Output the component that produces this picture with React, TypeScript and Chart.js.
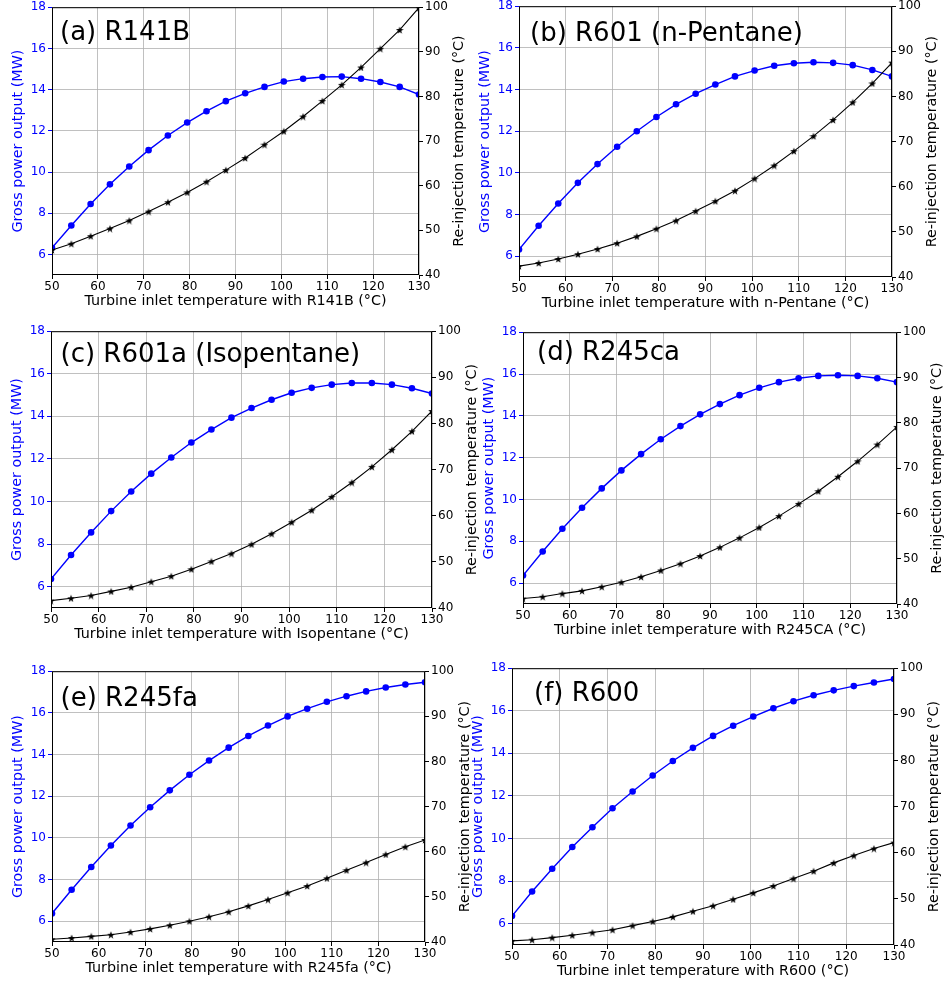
import React, { useEffect, useRef } from "react";
import { Chart, registerables } from "chart.js";

Chart.register(...registerables);

const FONT = "DejaVu Sans";
const BLUE = "#0000ff";

// Turbine inlet temperatures (°C), 20 evaluation points
const inletTemps = [50, 54.21, 58.42, 62.63, 66.84, 71.05, 75.26, 79.47, 83.68, 87.89, 92.11, 96.32, 100.53, 104.74, 108.95, 113.16, 117.37, 121.58, 125.79, 130];

const xTicks = [50, 60, 70, 80, 90, 100, 110, 120, 130];
const powerTicks = [6, 8, 10, 12, 14, 16, 18];
const tempTicks = [40, 50, 60, 70, 80, 90, 100];

// Gross power output (MW)
const powerR141B = [6.32, 7.40, 8.45, 9.40, 10.27, 11.06, 11.77, 12.40, 12.95, 13.44, 13.82, 14.13, 14.39, 14.53, 14.61, 14.63, 14.53, 14.37, 14.13, 13.76];
const powerR601 = [6.32, 7.46, 8.53, 9.52, 10.42, 11.25, 12.0, 12.68, 13.29, 13.80, 14.24, 14.63, 14.91, 15.14, 15.26, 15.31, 15.28, 15.17, 14.94, 14.63];
const powerR601a = [6.36, 7.49, 8.55, 9.55, 10.47, 11.31, 12.07, 12.77, 13.38, 13.94, 14.39, 14.78, 15.11, 15.34, 15.49, 15.57, 15.57, 15.49, 15.32, 15.07];
const powerR245ca = [6.36, 7.51, 8.60, 9.60, 10.53, 11.39, 12.17, 12.88, 13.51, 14.07, 14.56, 14.99, 15.34, 15.61, 15.80, 15.91, 15.94, 15.91, 15.80, 15.61];
const powerR245fa = [6.37, 7.51, 8.60, 9.63, 10.59, 11.47, 12.28, 13.03, 13.71, 14.33, 14.89, 15.39, 15.83, 16.20, 16.53, 16.80, 17.03, 17.22, 17.36, 17.47];
const powerR600 = [6.36, 7.51, 8.58, 9.60, 10.53, 11.42, 12.21, 12.96, 13.64, 14.26, 14.82, 15.30, 15.73, 16.12, 16.45, 16.73, 16.96, 17.16, 17.33, 17.49];

// Re-injection temperature (°C)
const tempR141B = [45.6, 47.0, 48.7, 50.4, 52.2, 54.2, 56.3, 58.5, 60.9, 63.5, 66.2, 69.2, 72.2, 75.5, 79.0, 82.6, 86.5, 90.7, 94.9, 99.9];
const tempR601 = [42.4, 43.1, 44.0, 45.05, 46.2, 47.5, 49.0, 50.7, 52.5, 54.6, 56.8, 59.1, 61.8, 64.7, 67.9, 71.2, 74.8, 78.7, 82.9, 87.5];
const tempR601a = [41.6, 42.1, 42.7, 43.6, 44.5, 45.7, 46.9, 48.4, 50.1, 51.8, 53.8, 56.1, 58.6, 61.2, 64.1, 67.2, 70.6, 74.3, 78.3, 82.7];
const tempR245ca = [41.2, 41.6, 42.3, 42.9, 43.8, 44.8, 46.0, 47.4, 48.9, 50.6, 52.5, 54.6, 56.9, 59.4, 62.1, 64.9, 68.1, 71.5, 75.2, 79.1];
const tempR245fa = [40.6, 40.9, 41.25, 41.6, 42.2, 42.9, 43.7, 44.6, 45.6, 46.7, 48.0, 49.4, 50.9, 52.4, 54.1, 55.9, 57.6, 59.4, 61.1, 62.6];
const tempR600 = [40.9, 41.15, 41.6, 42.1, 42.7, 43.3, 44.2, 45.1, 46.1, 47.3, 48.5, 49.9, 51.3, 52.8, 54.4, 56.0, 57.8, 59.4, 60.9, 62.2];

type PanelCfg = {
  title: string;
  xTitle: string;
  power: number[];
  temp: number[];
  l: number;
  t: number;
  w: number;
  h: number;
  tdx: number;
  tdy: number;
};

const panels: PanelCfg[] = [
  { title: "(a) R141B", xTitle: "Turbine inlet temperature with R141B (°C)", power: powerR141B, temp: tempR141B, l: 52, t: 6, w: 367, h: 269, tdx: 8, tdy: 33 },
  { title: "(b) R601 (n-Pentane)", xTitle: "Turbine inlet temperature with n-Pentane (°C)", power: powerR601, temp: tempR601, l: 519, t: 5, w: 373, h: 272, tdx: 11, tdy: 35 },
  { title: "(c) R601a (Isopentane)", xTitle: "Turbine inlet temperature with Isopentane (°C)", power: powerR601a, temp: tempR601a, l: 51, t: 330, w: 381, h: 278, tdx: 9.5, tdy: 31 },
  { title: "(d) R245ca", xTitle: "Turbine inlet temperature with R245CA (°C)", power: powerR245ca, temp: tempR245ca, l: 523, t: 331, w: 374, h: 273, tdx: 14, tdy: 27.5 },
  { title: "(e) R245fa", xTitle: "Turbine inlet temperature with R245fa (°C)", power: powerR245fa, temp: tempR245fa, l: 52, t: 670, w: 373, h: 272, tdx: 8.5, tdy: 35 },
  { title: "(f) R600", xTitle: "Turbine inlet temperature with R600 (°C)", power: powerR600, temp: tempR600, l: 512, t: 667, w: 382, h: 278, tdx: 22, tdy: 32.5 },
];

const LEFT_W = 50;
const RIGHT_W = 55;
const TOP_PAD = 8;
const BOTTOM_H = 37;
const RIGHT_TITLE = "Re-injection temperature (°C)";

function makeStar(size: number, color: string) {
  const c = document.createElement("canvas");
  c.width = size;
  c.height = size;
  const ctx = c.getContext("2d")!;
  const cx = size / 2;
  const cy = size / 2 + 0.4;
  const ro = size / 2;
  const ri = ro * 0.4;
  ctx.beginPath();
  for (let k = 0; k < 10; k++) {
    const r = k % 2 === 0 ? ro : ri;
    const a = -Math.PI / 2 + (k * Math.PI) / 5;
    ctx.lineTo(cx + r * Math.cos(a), cy + r * Math.sin(a));
  }
  ctx.closePath();
  ctx.fillStyle = color;
  ctx.fill();
  return c;
}

function Panel({ cfg }: { cfg: PanelCfg }) {
  const ref = useRef<HTMLCanvasElement | null>(null);
  const cw = LEFT_W + cfg.w + RIGHT_W;
  const ch = TOP_PAD + cfg.h + BOTTOM_H;

  useEffect(() => {
    if (!ref.current) return;
    const star = makeStar(8, "#000");
    const framePlugin = {
      id: "frameAndTitle",
      afterDatasetsDraw(chart: any) {
        const { ctx, chartArea } = chart;
        ctx.save();
        ctx.strokeStyle = "#000";
        ctx.lineWidth = 1;
        ctx.strokeRect(chartArea.left + 0.5, chartArea.top + 0.5, chartArea.right - chartArea.left - 1, chartArea.bottom - chartArea.top - 1);
        ctx.restore();
      },
      afterDraw(chart: any) {
        const { ctx, chartArea } = chart;
        ctx.save();
        ctx.fillStyle = "#000";
        ctx.font = `26px "${FONT}"`;
        ctx.textBaseline = "alphabetic";
        ctx.textAlign = "left";
        ctx.fillText(cfg.title, chartArea.left + cfg.tdx, chartArea.top + cfg.tdy);
        ctx.restore();

        // right-axis title, reading bottom-to-top
        ctx.save();
        ctx.fillStyle = "#000";
        ctx.font = `14.3px "${FONT}"`;
        ctx.textAlign = "center";
        ctx.textBaseline = "middle";
        ctx.translate(chartArea.right + 40, (chartArea.top + chartArea.bottom) / 2);
        ctx.rotate(-Math.PI / 2);
        ctx.fillText(RIGHT_TITLE, 0, 0);
        ctx.restore();
      },
    };

    const chart = new Chart(ref.current, {
      type: "line",
      data: {
        datasets: [
          {
            label: "Re-injection temperature",
            data: inletTemps.map((x, i) => ({ x, y: cfg.temp[i] })),
            yAxisID: "y1",
            borderColor: "#000",
            backgroundColor: "#000",
            borderWidth: 1.1,
            pointStyle: star as any,
            pointRadius: 4,
            tension: 0,
            clip: 0,
          },
          {
            label: "Gross power output",
            data: inletTemps.map((x, i) => ({ x, y: cfg.power[i] })),
            yAxisID: "y",
            borderColor: BLUE,
            backgroundColor: BLUE,
            pointBackgroundColor: BLUE,
            pointBorderWidth: 0,
            borderWidth: 1.4,
            pointRadius: 3.3,
            tension: 0,
            clip: 0,
          },
        ],
      },
      options: {
        responsive: false,
        animation: false,
        devicePixelRatio: 1,
        events: [],
        layout: { padding: { top: TOP_PAD, left: 0, right: 0, bottom: 0 }, autoPadding: false },
        plugins: { legend: { display: false }, tooltip: { enabled: false } },
        scales: {
          x: {
            type: "linear",
            position: "bottom",
            min: 50,
            max: 130,
            afterBuildTicks: (s: any) => {
              s.ticks = xTicks.map((v) => ({ value: v }));
            },
            afterFit: (s: any) => {
              s.height = BOTTOM_H;
            },
            grid: { color: "#b0b0b0", lineWidth: 0.8, tickLength: 4, tickColor: "#000", tickWidth: 1 },
            border: { display: false },
            ticks: { color: "#000", font: { family: FONT, size: 12 }, padding: 1, maxRotation: 0, autoSkip: false },
            title: { display: true, text: cfg.xTitle, color: "#000", font: { family: FONT, size: 14.3, lineHeight: 1.2 }, padding: { top: 0, bottom: 2 } },
          },
          y: {
            type: "linear",
            position: "left",
            min: 5,
            max: 18,
            afterBuildTicks: (s: any) => {
              s.ticks = powerTicks.map((v) => ({ value: v }));
            },
            afterFit: (s: any) => {
              s.width = LEFT_W;
            },
            grid: { color: "#b0b0b0", lineWidth: 0.8, tickLength: 4, tickColor: BLUE, tickWidth: 1 },
            border: { display: false },
            ticks: { color: BLUE, font: { family: FONT, size: 12 }, padding: 2, autoSkip: false },
            title: { display: true, text: "Gross power output (MW)", color: BLUE, font: { family: FONT, size: 14.3, lineHeight: 1.2 }, padding: { top: 7.9, bottom: 0 } },
          },
          y1: {
            type: "linear",
            position: "right",
            min: 40,
            max: 100,
            afterBuildTicks: (s: any) => {
              s.ticks = tempTicks.map((v) => ({ value: v }));
            },
            afterFit: (s: any) => {
              s.width = RIGHT_W;
            },
            grid: { drawOnChartArea: false, tickLength: 4, tickColor: "#000", tickWidth: 1 },
            border: { display: false },
            ticks: { color: "#000", font: { family: FONT, size: 12 }, padding: 2, autoSkip: false },
            title: { display: false },
          },
        },
      },
      plugins: [framePlugin],
    } as any);
    return () => chart.destroy();
  }, [cfg]);

  return (
    <canvas
      ref={ref}
      width={cw}
      height={ch}
      style={{ position: "absolute", left: cfg.l - LEFT_W, top: cfg.t - TOP_PAD, width: cw, height: ch }}
    />
  );
}

export default function App() {
  return (
    <div style={{ position: "absolute", left: 0, top: 0, width: 945, height: 984, overflow: "hidden", background: "#fff" }}>
      {panels.map((p) => (
        <Panel key={p.title} cfg={p} />
      ))}
    </div>
  );
}
